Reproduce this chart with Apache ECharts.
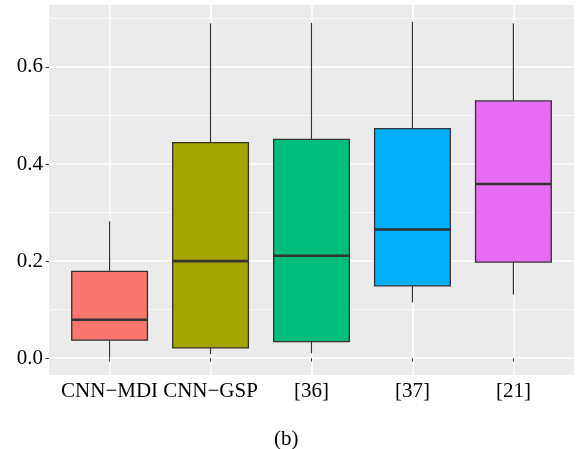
<!DOCTYPE html>
<html>
<head>
<meta charset="utf-8">
<script src="https://cdn.jsdelivr.net/npm/echarts@6/dist/echarts.min.js"></script>
<style>html,body{margin:0;padding:0;background:#fff;}#c{width:579px;height:449px;}</style>
</head>
<body>
<div id="c"></div>
<script>
const categories = ['CNN\u2212MDI', 'CNN\u2212GSP', '[36]', '[37]', '[21]'];
const whiskerLow = [0.001, 0.008, 0.010, 0.115, 0.131];
const q1 = [0.037, 0.021, 0.034, 0.149, 0.198];
const median = [0.079, 0.200, 0.211, 0.265, 0.359];
const q3 = [0.179, 0.444, 0.451, 0.473, 0.530];
const whiskerHigh = [0.282, 0.690, 0.691, 0.693, 0.690];
const colors = ['#F8766D', '#A3A500', '#00BF7D', '#00B0F6', '#E76BF3'];
const majorTicks = [0, 0.2, 0.4, 0.6];
const minorTicks = [0.1, 0.3, 0.5, 0.7];
const caption = '(b)';

const yMin = -0.0347, yMax = 0.7277;
// discrete axis expansion (0.6 units each side) for background grid
const xCenters = categories.map((c, i) => i + 0.6);

const chart = echarts.init(document.getElementById('c'));
const font = '"Liberation Serif", "Times New Roman", serif';

const data = categories.map((c, i) => [i, whiskerLow[i], q1[i], median[i], q3[i], whiskerHigh[i]]);

chart.setOption({
  animation: false,
  backgroundColor: '#fff',
  title: {
    text: caption, left: 269, top: 424,
    textStyle: { fontFamily: font, fontSize: 21, fontWeight: 'normal', color: '#000' }
  },
  grid: [
    { left: 49, right: 5, top: 5, bottom: 74, show: true, backgroundColor: '#EBEBEB', borderWidth: 0 },
    { left: 59.1, right: 15.1, top: 5, bottom: 74 }
  ],
  xAxis: [
    {
      type: 'value', gridIndex: 0, min: 0, max: 5.2,
      axisLine: { show: false }, axisTick: { show: false, customValues: xCenters },
      axisLabel: { show: false, customValues: xCenters },
      splitLine: { show: true, lineStyle: { color: '#fff', width: 1.5 } }
    },
    {
      type: 'category', gridIndex: 1, data: categories, boundaryGap: true,
      axisLine: { show: false },
      axisTick: { show: true, alignWithLabel: true, length: 3.5, lineStyle: { color: '#333', width: 1 } },
      axisLabel: { show: true, interval: 0, margin: 6, fontFamily: font, fontSize: 21, color: '#000' },
      splitLine: { show: false }
    }
  ],
  yAxis: [
    {
      type: 'value', gridIndex: 0, min: yMin, max: yMax,
      axisLine: { show: false },
      axisTick: { show: true, customValues: majorTicks, length: 3.5, lineStyle: { color: '#333', width: 1 } },
      axisLabel: { show: true, customValues: majorTicks, margin: 6, fontFamily: font, fontSize: 21, color: '#000',
        formatter: v => v.toFixed(1) },
      splitLine: { show: true, lineStyle: { color: '#fff', width: 1.5 } }
    },
    {
      type: 'value', gridIndex: 0, min: yMin, max: yMax,
      axisLine: { show: false },
      axisTick: { show: false, customValues: minorTicks },
      axisLabel: { show: false, customValues: minorTicks },
      splitLine: { show: true, lineStyle: { color: '#fff', width: 0.75 } }
    },
    {
      type: 'value', gridIndex: 1, min: yMin, max: yMax, show: false,
      splitLine: { show: false }
    }
  ],
  series: [{
    type: 'custom',
    xAxisIndex: 1, yAxisIndex: 2,
    data: data,
    encode: { x: 0, y: [1, 2, 3, 4, 5] },
    renderItem: function (params, api) {
      const x = api.value(0);
      const pLo = api.coord([x, api.value(1)]);
      const pQ1 = api.coord([x, api.value(2)]);
      const pMed = api.coord([x, api.value(3)]);
      const pQ3 = api.coord([x, api.value(4)]);
      const pHi = api.coord([x, api.value(5)]);
      const bw = api.size([1, 0])[0] * 0.75;
      const cx = pMed[0];
      const line = { stroke: '#333333', lineWidth: 1.2 };
      return {
        type: 'group',
        children: [
          { type: 'line', shape: { x1: cx, y1: pHi[1], x2: cx, y2: pQ3[1] }, style: line },
          { type: 'line', shape: { x1: cx, y1: pQ1[1], x2: cx, y2: pLo[1] }, style: line },
          { type: 'rect', shape: { x: cx - bw / 2, y: pQ3[1], width: bw, height: pQ1[1] - pQ3[1] },
            style: { fill: colors[params.dataIndex], stroke: '#333333', lineWidth: 1.3 } },
          { type: 'line', shape: { x1: cx - bw / 2, y1: pMed[1], x2: cx + bw / 2, y2: pMed[1] },
            style: { stroke: '#333333', lineWidth: 2.6 } }
        ]
      };
    }
  }]
});
</script>
</body>
</html>
